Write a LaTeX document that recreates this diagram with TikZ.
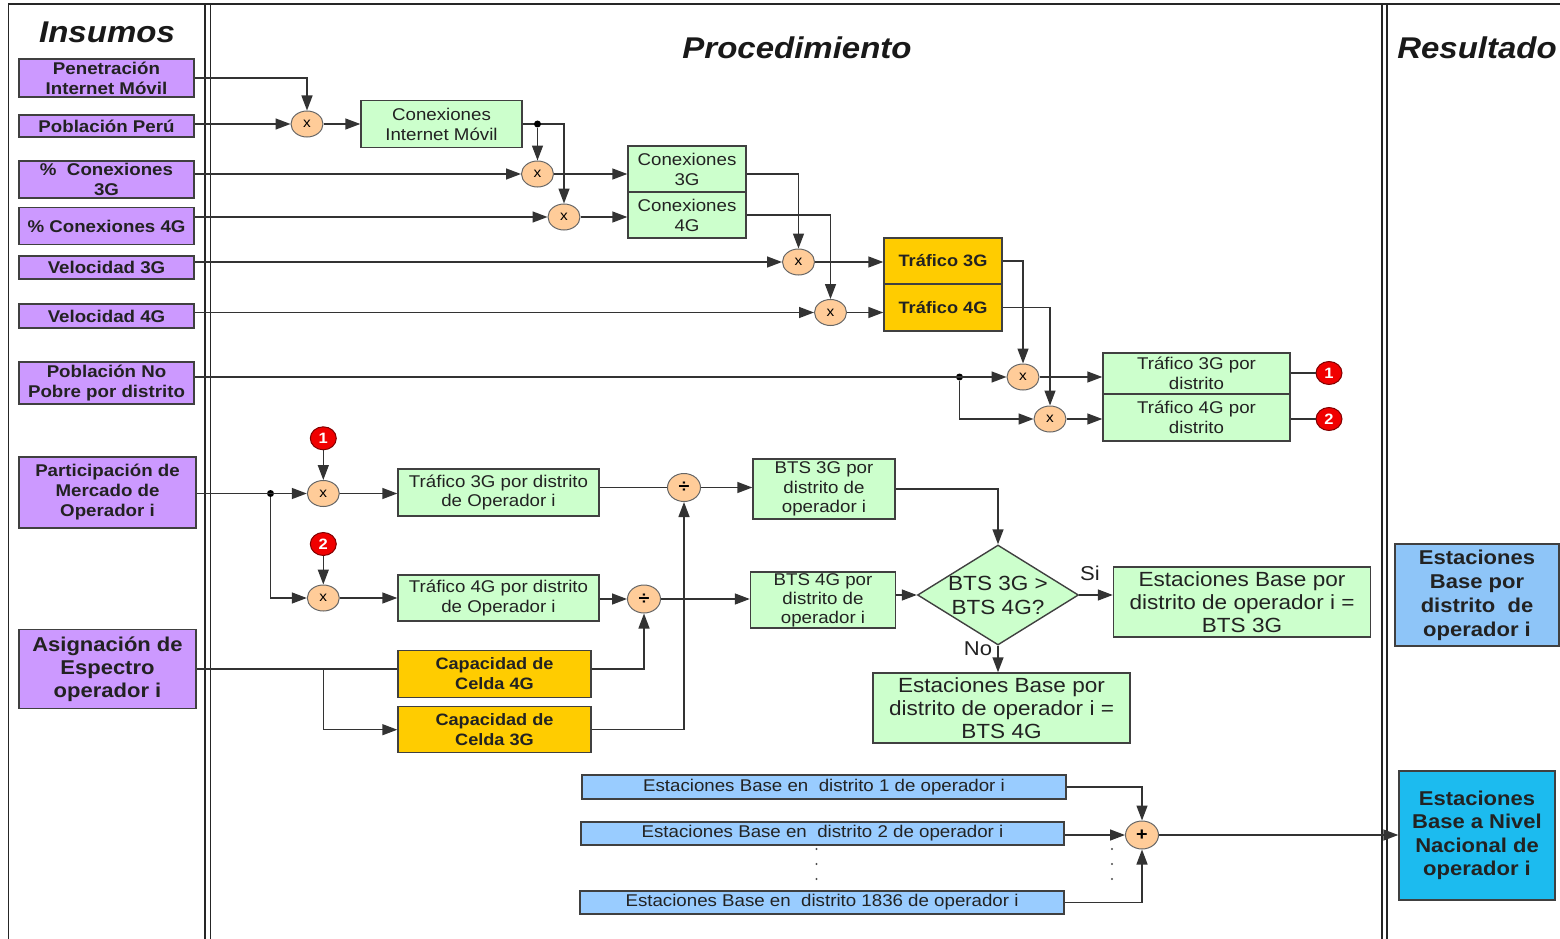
\documentclass[tikz,border=0pt]{standalone}
\usepackage{fontspec}
\setmainfont{Liberation Sans}[FakeStretch=1.1]
\usetikzlibrary{arrows.meta,shapes.geometric}
\definecolor{purp}{HTML}{CC99FF}
\definecolor{grn}{HTML}{CCFFCC}
\definecolor{org}{HTML}{FFCC00}
\definecolor{peach}{HTML}{FFCC99}
\definecolor{lblue}{HTML}{99CCFF}
\definecolor{rblue}{HTML}{8EC5F8}
\definecolor{cyanb}{HTML}{1CBBEF}
\definecolor{bd}{HTML}{404040}
\definecolor{txt}{HTML}{222222}
\definecolor{redc}{HTML}{F00000}
\newcommand\fsz[2]{\fontsize{#1}{#2}\selectfont}
\begin{document}
\begin{tikzpicture}[x=1pt,y=-1pt,
 box/.style={draw=bd,line width=1.4pt,inner sep=0pt,align=center,text=txt},
 inbox/.style={box,fill=purp,font=\bfseries\fsz{17}{20}},
 gbox/.style={box,fill=grn,font=\fsz{17}{20}},
 obox/.style={box,fill=org,font=\bfseries\fsz{16.5}{20}},
 bbox/.style={box,fill=lblue,font=\fsz{17}{20}},
 resbox/.style={box,font=\bfseries\fsz{20}{24}},
 op/.style={ellipse,draw=bd!80,line width=1pt,fill=peach,minimum width=32pt,minimum height=26pt,inner sep=0pt,font=\fsz{14}{14}},
 redn/.style={ellipse,draw=red!50!black,line width=1pt,fill=redc,minimum width=26pt,minimum height=23pt,inner sep=0pt,text=white,font=\bfseries\fsz{15}{15}},
 conn/.style={draw=black!80,line width=1.4pt},
 arr/.style={conn,-{Triangle[length=15pt,width=11pt]}},
 lane/.style={draw=black!85,line width=1.8pt},
 hdr/.style={font=\bfseries\itshape\fsz{30}{30},text=black!90},
 jdot/.style={circle,fill=black,inner sep=0pt,minimum size=7pt},
 lbl/.style={font=\fsz{20}{20},text=txt,inner sep=0pt},
]
\useasboundingbox (0,0) rectangle (1560,939);
% lanes
\draw[lane] (8.5,939) -- (8.5,4) -- (1560,4);
\draw[lane] (205,4) -- (205,939);
\draw[lane] (210.5,4) -- (210.5,939);
\draw[lane] (1382,4) -- (1382,939);
\draw[lane] (1387,4) -- (1387,939);
\node[hdr] (h1) at (107,32) {Insumos};
\node[hdr] (h2) at (797,48) {Procedimiento};
\node[hdr] (h3) at (1477,48) {Resultado};
% inputs
\node[inbox,minimum width=175pt,minimum height=38pt] (pen) at (106.5,78) {Penetración\\Internet Móvil};
\node[inbox,minimum width=175pt,minimum height=22pt] (pob) at (106.5,126) {Población Perú};
\node[inbox,minimum width=175pt,minimum height=37pt] (pct3) at (106.5,179.5) {\%\ \ Conexiones\\3G};
\node[inbox,minimum width=175pt,minimum height=37pt] (pct4) at (106.5,226) {\% Conexiones 4G};
\node[inbox,minimum width=175pt,minimum height=23pt] (v3) at (106.5,267.5) {Velocidad 3G};
\node[inbox,minimum width=175pt,minimum height=24pt] (v4) at (106.5,316) {Velocidad 4G};
\node[inbox,minimum width=175pt,minimum height=42pt] (pn) at (106.5,383) {Población No\\Pobre por distrito};
\node[inbox,minimum width=177pt,minimum height=71pt] (part) at (107.5,492.5) {Participación de\\Mercado de\\Operador i};
\node[inbox,minimum width=177pt,minimum height=79pt,font=\bfseries\fsz{20}{23}] (asig) at (107.5,669) {Asignación de\\Espectro\\operador i};
% procedure boxes
\node[gbox,minimum width=161pt,minimum height=47pt] (cim) at (441.5,124) {Conexiones\\Internet Móvil};
\node[gbox,minimum width=118pt,minimum height=46pt] (c3g) at (687,169) {Conexiones\\3G};
\node[gbox,minimum width=118pt,minimum height=46pt] (c4g) at (687,215) {Conexiones\\4G};
\node[obox,minimum width=118pt,minimum height=46pt] (t3) at (943,261) {Tráfico 3G};
\node[obox,minimum width=118pt,minimum height=47pt] (t4) at (943,307.5) {Tráfico 4G};
\node[gbox,minimum width=187pt,minimum height=41pt] (td3) at (1196.5,373.5) {Tráfico 3G por\\distrito};
\node[gbox,minimum width=187pt,minimum height=47pt] (td4) at (1196.5,417.3) {Tráfico 4G por\\distrito};
\node[gbox,minimum width=201pt,minimum height=47pt] (to3) at (498.5,492.5) {Tráfico 3G por distrito\\de Operador i};
\node[gbox,minimum width=201pt,minimum height=46pt] (to4) at (498.5,598) {Tráfico 4G por distrito\\de Operador i};
\node[obox,minimum width=193pt,minimum height=47pt] (cap4) at (494.5,674) {Capacidad de\\Celda 4G};
\node[obox,minimum width=193pt,minimum height=46pt] (cap3) at (494.5,729.7) {Capacidad de\\Celda 3G};
\node[gbox,minimum width=142pt,minimum height=60pt,font=\fsz{17}{19.5}] (bts3) at (824,489) {BTS 3G por\\distrito de\\operador i};
\node[gbox,minimum width=145pt,minimum height=56pt,font=\fsz{17}{19}] (bts4) at (823,600) {BTS 4G por\\distrito de\\operador i};
\node[diamond,draw=bd,line width=1.4pt,fill=grn,minimum width=161pt,minimum height=100pt,inner sep=0pt] (dia) at (998,595) {};
\node[font=\fsz{20.5}{24},align=center,text=txt,inner sep=0pt] (diat) at (dia.center) {BTS 3G >\\BTS 4G?};
\node[gbox,minimum width=257pt,minimum height=70pt,font=\fsz{20.5}{23}] (eb3) at (1242,602) {Estaciones Base por\\distrito de operador i =\\BTS 3G};
\node[gbox,minimum width=257pt,minimum height=70pt,font=\fsz{20.5}{23}] (eb4) at (1001.5,708) {Estaciones Base por\\distrito de operador i =\\BTS 4G};
\node[lbl] (si) at (1090,573) {Si};
\node[lbl] (no) at (978,649) {No};
\node[bbox,minimum width=484pt,minimum height=24pt] (b1) at (824,787) {Estaciones Base en\ \ distrito 1 de operador i};
\node[bbox,minimum width=483pt,minimum height=23pt] (b2) at (822.5,833.5) {Estaciones Base en\ \ distrito 2 de operador i};
\node[bbox,minimum width=484pt,minimum height=23pt] (b3) at (822,902.5) {Estaciones Base en\ \ distrito 1836 de operador i};
% results
\node[resbox,fill=rblue,minimum width=164pt,minimum height=102pt] (res1) at (1477,595) {Estaciones\\Base por\\distrito\ \ de\\operador i};
\node[resbox,fill=cyanb,minimum width=156pt,minimum height=129pt,font=\bfseries\fsz{20}{23.5}] (nac) at (1477,835.5) {Estaciones\\Base a Nivel\\Nacional de\\operador i};
% operators
\node[op] (m1) at (307,124) {x};
\node[op] (m2) at (537.5,174) {x};
\node[op] (m3) at (564,217) {x};
\node[op] (m4) at (798.5,262) {x};
\node[op] (m5) at (830.5,312.5) {x};
\node[op] (m6) at (1023,377) {x};
\node[op] (m7) at (1050,419) {x};
\node[op] (m8) at (323.3,493.5) {x};
\node[op] (m9) at (323.3,598) {x};
\node[op,minimum width=33pt,minimum height=28pt,font=\bfseries\fsz{18}{18}] (d1) at (684,487.5) {÷};
\node[op,minimum width=33pt,minimum height=28pt,font=\bfseries\fsz{18}{18}] (d2) at (644,599) {÷};
\node[op,minimum width=33pt,minimum height=28pt,font=\bfseries\fsz{18}{18}] (plus) at (1142,835) {+};
\node[redn] (r1) at (1329,373) {1};
\node[redn] (r2) at (1329,419) {2};
\node[redn] (r1b) at (323.3,438.3) {1};
\node[redn] (r2b) at (323.3,544) {2};
% connectors
\draw[arr] (pen.east) -| (m1);
\draw[arr] (pob.east |- m1) -- (m1);
\draw[arr] (m1) -- (m1 -| cim.west);
\draw[arr] (cim.east) -| (m3);
\node[jdot] (j1) at (m2 |- cim.east) {};
\draw[arr] (j1) -- (m2);
\draw[arr] (pct3.east |- m2) -- (m2);
\draw[arr] (m2) -- (m2 -| c3g.west);
\draw[arr] (pct4.east |- m3) -- (m3);
\draw[arr] (m3) -- (m3 -| c4g.west);
\draw[arr] (c3g.east |- m2) -| (m4);
\draw[arr] (c4g.east) -| (m5);
\draw[arr] (v3.east |- m4) -- (m4);
\draw[arr] (m4) -- (m4 -| t3.west);
\draw[arr] (v4.east |- m5) -- (m5);
\draw[arr] (m5) -- (m5 -| t4.west);
\draw[arr] (t3.east) -| (m6);
\draw[arr] (t4.east) -| (m7);
\node[jdot] (j2) at (959.5,377) {};
\draw[arr] (pn.east |- m6) -- (m6);
\draw[arr] (j2) |- (m7);
\draw[arr] (m6) -- (m6 -| td3.west);
\draw[arr] (m7) -- (m7 -| td4.west);
\draw[conn] (td3.east |- r1) -- (r1);
\draw[conn] (td4.east |- r2) -- (r2);
\node[jdot] (j3) at (270.5,493.5) {};
\draw[arr] (part.east |- m8) -- (m8);
\draw[arr] (j3) |- (m9);
\draw[arr] (r1b) -- (m8);
\draw[arr] (r2b) -- (m9);
\draw[arr] (m8) -- (m8 -| to3.west);
\draw[arr] (m9) -- (m9 -| to4.west);
\draw[conn] (to3.east |- d1) -- (d1);
\draw[arr] (d1) -- (d1 -| bts3.west);
\draw[arr] (to4.east |- d2) -- (d2);
\draw[arr] (d2) -- (d2 -| bts4.west);
\draw[conn] (asig.east) -- (asig.east -| cap4.west);
\coordinate (j4) at (m9 |- asig.east);
\draw[arr] (j4) |- (cap3);
\draw[arr] (cap4.east |- asig.east) -| (d2);
\draw[arr] (cap3.east) -| (d1);
\draw[arr] (bts3.east) -| (dia);
\draw[arr] (bts4.east |- dia) -- (dia);
\draw[arr] (dia) -- (dia -| eb3.west);
\draw[arr] (dia) -- (dia |- eb4.north);
\draw[arr] (b1.east) -| (plus);
\draw[arr] (b2.east |- plus) -- (plus);
\draw[arr] (b3.east) -| (plus);
\draw[arr] (plus) -- (plus -| nac.west);
% ellipsis dots
\foreach \yy in {849,864,879} {
  \fill[black!70] (816.5,\yy) circle (1.1pt);
  \fill[black!70] (1112,\yy) circle (1.1pt);
}
\end{tikzpicture}
\end{document}
